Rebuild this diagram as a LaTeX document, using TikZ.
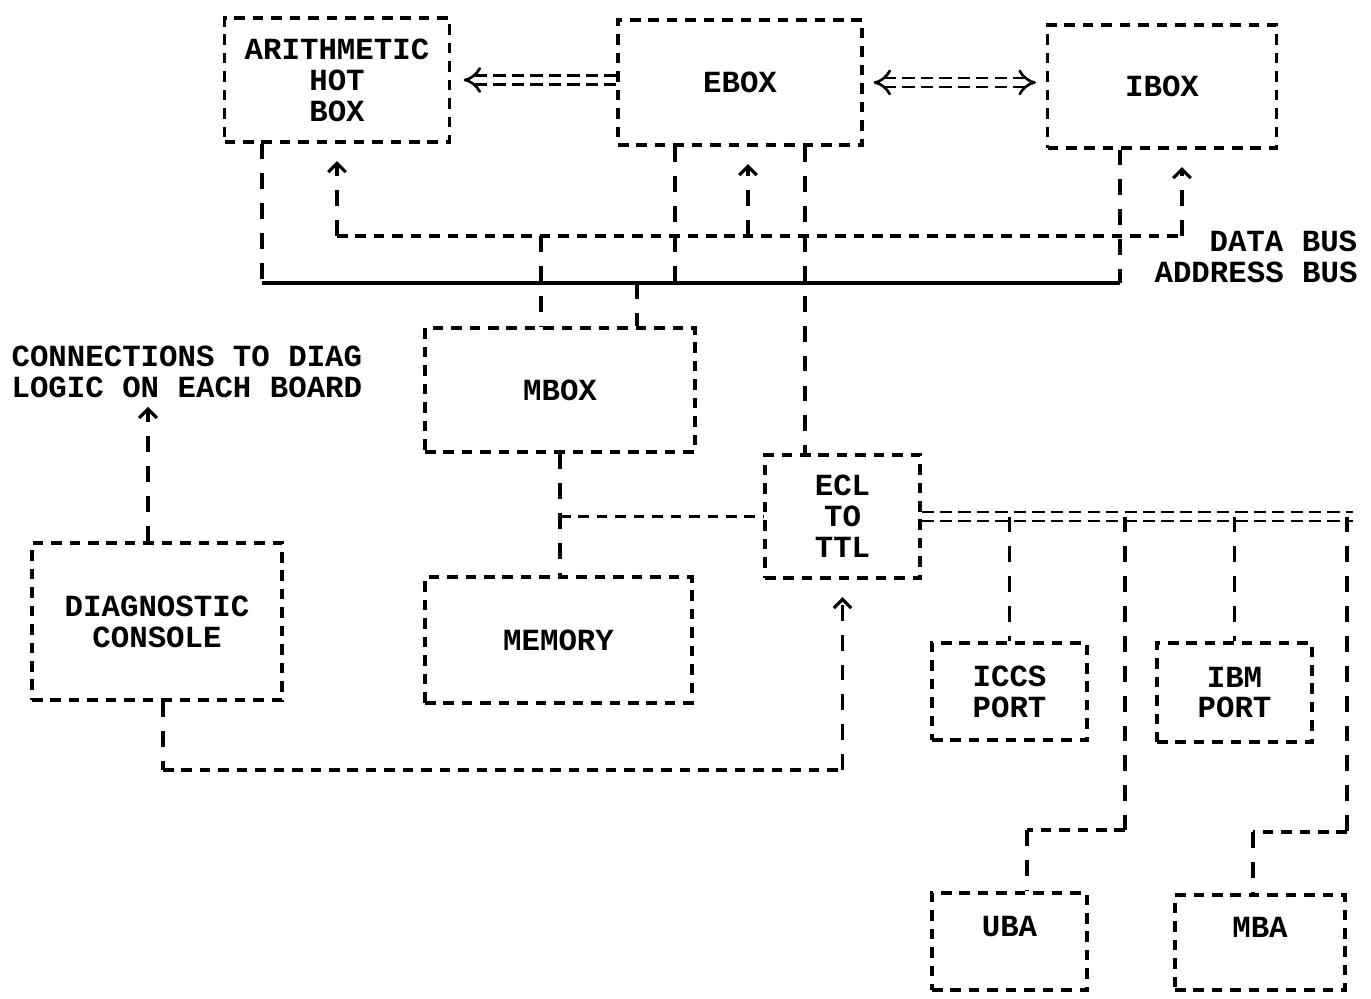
\documentclass[tikz,border=0pt]{standalone}
\usepackage{fontspec}
\setmonofont{Liberation Mono}
\usetikzlibrary{positioning,arrows.meta}

\begin{document}
\begin{tikzpicture}[x=0.02cm, y=-0.02cm, >={Straight Barb[length=5pt,width=10pt]},
    font=\ttfamily\bfseries\fontsize{17.5}{17.6}\selectfont, line width=1.8pt,
    b/.style={draw, dash pattern=on 6pt off 4.5pt, align=center, inner sep=0pt},
    v/.style={dash pattern=on 9pt off 8pt},
    h/.style={dash pattern=on 6pt off 4.5pt},
    dbl/.style={double, double distance=3.5pt, line width=1.5pt, dash pattern=on 7pt off 3.5pt}]

  \useasboundingbox (0,0) rectangle (1371,999);

  % boxes
  \node[b, minimum width=4.5cm, minimum height=2.48cm] (arith) at (337,80) {ARITHMETIC\\HOT\\BOX};
  \node[b, minimum width=4.88cm, minimum height=2.5cm] (ebox) at (740,82.5) {EBOX};
  \node[b, minimum width=4.58cm, minimum height=2.46cm] (ibox) at (1162,86.5) {IBOX};
  \node[b, minimum width=5.4cm, minimum height=2.48cm] (mbox) at (560,390) {MBOX};
  \node[b, minimum width=3.1cm, minimum height=2.46cm] (ecl) at (842.5,516.5) {ECL\\TO\\TTL};
  \node[b, minimum width=5.34cm, minimum height=2.52cm] (memory) at (558.5,640) {MEMORY};
  \node[b, minimum width=5cm, minimum height=3.14cm] (diag) at (157,621.5) {DIAGNOSTIC\\CONSOLE};
  \node[b, minimum width=3.1cm, minimum height=1.94cm] (iccs) at (1009.5,691.5) {ICCS\\PORT};
  \node[b, minimum width=3.1cm, minimum height=1.98cm] (ibm) at (1234.5,692.5) {IBM\\PORT};
  \node[b, minimum width=3.1cm, minimum height=1.94cm, text depth=0.6cm] (uba) at (1009.5,941.5) {UBA};
  \node[b, minimum width=3.4cm, minimum height=1.9cm, text depth=0.6cm] (mba) at (1260,942.5) {MBA};

  \node[anchor=west, align=left, inner sep=0pt] (note) at (10,372) {CONNECTIONS TO DIAG\\LOGIC ON EACH BOARD};

  % box to box
  \draw[dbl, -{Implies}, shorten >=0.25cm] (ebox.west |- arith.east) -- (arith.east);
  \draw[dbl, {Implies}-{Implies}, shorten <=0.2cm, shorten >=0.2cm] (ebox.east) -- (ibox.west |- ebox.east);

  % buses
  \coordinate (ab-w) at (262,283);
  \coordinate (ab-e) at (1120,283);
  \coordinate (db-w) at (337,236);
  \coordinate (db-e) at (1182,236);
  \draw (ab-w) -- (ab-e);
  \draw[h] (db-w) -- (db-e);
  \node[anchor=west, inner sep=0pt] (dblbl) at (1208,241) {DATA BUS};
  \node[anchor=west, inner sep=0pt] (ablbl) at (1153,272) {ADDRESS BUS};

  \draw[v] (arith.south -| ab-w) -- (ab-w);
  \draw[v, ->, shorten >=0.35cm] (db-w) -- (arith.south -| db-w);
  \draw[v] (ebox.south -| 675,0) -- (ab-w -| 675,0);
  \draw[v, ->, shorten >=0.35cm] (db-w -| 748,0) -- (ebox.south -| 748,0);
  \draw[v] (ebox.south -| 805,0) -- (ecl.north -| 805,0);
  \draw[v] (ibox.south -| ab-e) -- (ab-e);
  \draw[v, ->, shorten >=0.35cm] (db-e) -- (ibox.south -| db-e);
  \draw[v] (db-w -| 541,0) -- (mbox.north -| 541,0);
  \draw[v] (ab-w -| 637,0) -- (mbox.north -| 637,0);

  % memory side
  \coordinate (mm) at (560,516.5);
  \draw[v] (mbox.south -| mm) -- (memory.north -| mm);
  \draw[h] (mm) -- (ecl.west);

  % diagnostic loop
  \coordinate (dg-w) at (163,770);
  \coordinate (dg-e) at (842.5,770);
  \draw[v] (diag.south -| dg-w) -- (dg-w);
  \draw[h] (dg-w) -- (dg-e);
  \draw[v, ->, shorten >=0.35cm] (dg-e) -- (ecl.south);
  \draw[v, ->, shorten >=0.15cm] (diag.north -| 148,0) -- (note.south -| 148,0);

  % i/o side
  \coordinate (io-e) at (1353,516.5);
  \draw[dbl] (ecl.east) -- (io-e);
  \draw[v] (io-e -| iccs.north) -- (iccs.north);
  \draw[v] (io-e -| ibm.north) -- (ibm.north);
  \coordinate (u1) at (1125,830);
  \coordinate (u2) at (1027,830);
  \draw[v] (io-e -| u1) -- (u1);
  \draw[h] (u1) -- (u2);
  \draw[v] (u2) -- (uba.north -| u2);
  \coordinate (m1) at (1347,832);
  \coordinate (m2) at (1253,832);
  \draw[v] (io-e -| m1) -- (m1);
  \draw[h] (m1) -- (m2);
  \draw[v] (m2) -- (mba.north -| m2);
\end{tikzpicture}
\end{document}
